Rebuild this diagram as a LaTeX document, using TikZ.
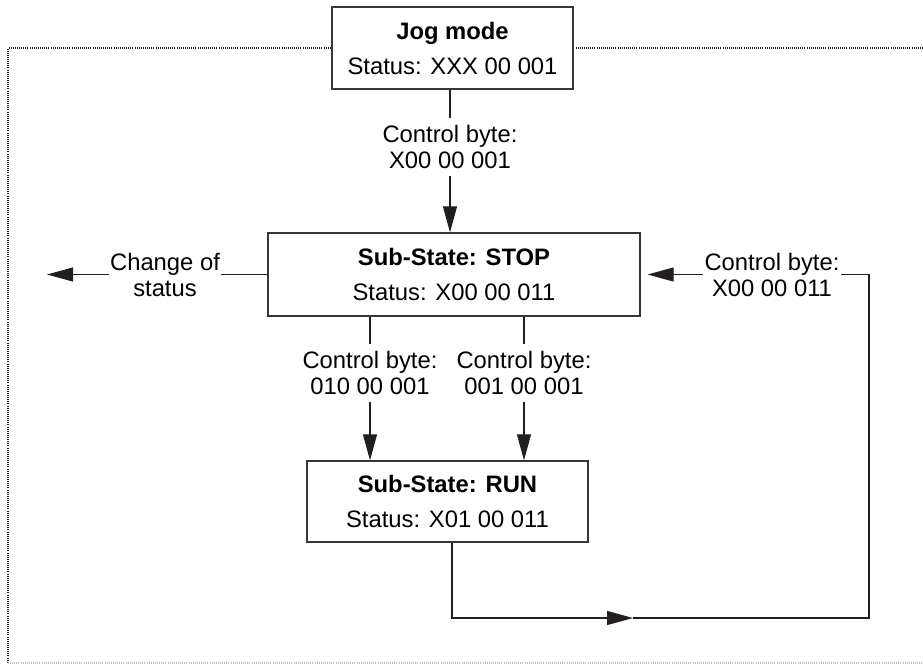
\documentclass[tikz,border=0pt]{standalone}
\usepackage{fontspec}
\setmainfont{Liberation Sans}
\usetikzlibrary{arrows.meta,positioning}
\definecolor{boxgray}{RGB}{55,55,55}
\definecolor{linegray}{RGB}{35,31,32}

\begin{document}
\begin{tikzpicture}[x=0.5pt, y=-0.5pt,
  box/.style={rectangle, draw=boxgray, line width=0.65pt, fill=white, align=center,
              inner sep=0pt, font=\fontsize{11.9}{13}\selectfont},
  lbl/.style={align=center, inner xsep=0.5pt, inner ysep=3.5pt, font=\fontsize{11.9}{13}\selectfont},
  line/.style={line width=0.55pt, draw=linegray},
  arrow/.style={line, -{Triangle[length=13pt, width=7pt]}},
  frame/.style={line width=0.55pt, dash pattern=on 0.5pt off 0.55pt}
]
\useasboundingbox (0,0) rectangle (923,665);

% Dotted frame
\draw[frame, linegray] (923,48) -- (8,48) -- (8,663);
\draw[frame, gray!50] (8,663) -- (923,663);

% States
\node[box, minimum width=120.5pt, minimum height=41pt] (jog) at (452.5,48)
  {\textbf{Jog mode}\\[4.5pt]Status: XXX 00 001};
\node[box, minimum width=186pt, minimum height=41.5pt] (stop) at (454,274.5)
  {\textbf{Sub-State: STOP}\\[4.5pt]Status: X00 00 011};
\node[box, minimum width=140.5pt, minimum height=40.5pt] (run) at (447.5,501.5)
  {\textbf{Sub-State: RUN}\\[4.5pt]Status: X01 00 011};

% Labels
\node[lbl] (ctrlA) at (450,147) {Control byte:\\X00 00 001};
\node[lbl] (chg) at (165,274.5) {Change of\\status};
\node[lbl] (ctrlR) at (772,274.5) {Control byte:\\X00 00 011};
\node[lbl] (ctrlC) at (370,373) {Control byte:\\010 00 001};
\node[lbl] (ctrlD) at (524,373) {Control byte:\\001 00 001};

\coordinate (chgend) at (47,274.5);
\coordinate (loopmid) at (633,618);
\coordinate (loopcorner) at (869,618);

% Transitions
\draw[line] (ctrlA.north |- jog.south) -- (ctrlA.north);
\draw[arrow] (ctrlA.south) -- (ctrlA.south |- stop.north);

\draw[line] (stop) -- (chg);
\draw[arrow] (chg) -- (chgend);

\draw[line] (ctrlC.north |- stop.south) -- (ctrlC.north);
\draw[arrow] (ctrlC.south) -- (ctrlC.south |- run.north);
\draw[line] (ctrlD.north |- stop.south) -- (ctrlD.north);
\draw[arrow] (ctrlD.south) -- (ctrlD.south |- run.north);

\draw[arrow] ([xshift=2.25pt]run.south) |- (loopmid);
\draw[line] (loopmid) -- (loopcorner) |- (ctrlR.east);
\draw[arrow, shorten >=3.5pt] (ctrlR) -- (stop);
\end{tikzpicture}
\end{document}
